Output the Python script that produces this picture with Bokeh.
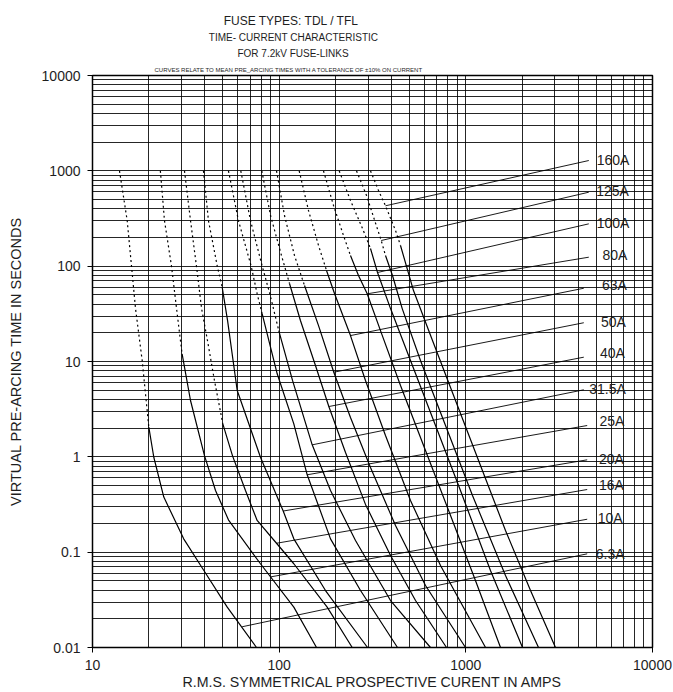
from bokeh.plotting import figure
from bokeh.layouts import column
from bokeh.models import FixedTicker, CustomJSTickFormatter, ColumnDataSource, Range1d, Title
from bokeh.core.properties import value
from bokeh.embed import file_html
from bokeh.resources import INLINE

FONT = "Liberation Sans"
INK = "#1e1e1e"

ratings = ["6.3A", "10A", "16A", "20A", "25A", "31.5A", "40A", "50A", "63A", "80A", "100A", "125A", "160A"]

# dotted (upper) part of each curve: current (A) / time (s)
dot_I = [
    [13.95, 15.34, 17.0, 18.46, 20.03],
    [23.1, 24.3, 26.5, 28.2, 30.2],
    [31.1, 33.5, 36.1, 38.4, 41.3, 45.0, 49.9],
    [39.3, 41.8, 46.6, 49.5],
    [53.5, 60.5, 70.8, 76.2, 81.1],
    [62.3, 70.2, 81.1, 89.1, 99.5],
    [80.7, 89.9, 102.9, 113.6],
    [96.8, 106.8, 120.8, 136.7],
    [128.0, 143.6, 162.5, 179.3],
    [172.8, 195.5, 221.1, 241.0],
    [209.7, 241.0, 279.6, 308.5],
    [259.6, 293.8, 352.1, 371.2],
    [308.5, 340.5, 371.2, 420.0, 446.7],
]
dot_t = [
    [1000, 301, 36, 10.2, 2.05],
    [1000, 301, 100, 36, 12.0],
    [1000, 301, 98, 36, 16.6, 6.33, 2.22],
    [1000, 301, 100, 60.3],
    [1000, 301, 100, 51.4, 31.6],
    [1000, 301, 100, 51.4, 21.1],
    [1000, 340, 129.4, 65.8],
    [1000, 340, 129.4, 62.7],
    [1000, 383.7, 164.7, 90.1],
    [1000, 432.8, 209.7, 129.4],
    [1000, 488.5, 248.3, 153.2],
    [1000, 551, 185.8, 129.4],
    [1000, 622, 429.8, 236.7, 164.7],
]
# solid (lower) part of each curve
sol_I = [
    [20.03, 21.3, 24.1, 30.8, 39.5, 52.7, 75.6],
    [30.2, 33.5, 39.8, 45.6, 53.7, 79.4, 119.8, 158.5],
    [49.9, 56.2, 66.0, 76.2, 96.8, 119.8, 180.8, 246.2],
    [49.5, 52.9, 59.6, 79.4, 105.1, 119.8, 177.1, 297.4],
    [81.1, 97.6, 119.8, 141.3, 188.4, 272.8, 430.4],
    [99.5, 117.9, 150.3, 188.4, 256.4, 395.0, 646.6],
    [113.6, 130.0, 156.5, 184.5, 226.7, 290.0, 395.0, 537.6, 787.8],
    [136.7, 162.5, 196.2, 241.0, 308.5, 420.0, 608.0, 995.9],
    [179.3, 197.9, 241.0, 290.0, 371.2, 505.3, 731.6, 1275.0],
    [241.0, 266.0, 296.2, 349.0, 446.7, 608.0, 828.0, 1126.0, 1534.0],
    [308.5, 336.4, 395.0, 505.3, 688.0, 936.0, 1355.0, 2012.0],
    [371.2, 404.6, 456.3, 571.5, 778.3, 1085.6, 1631.0, 2451.0],
    [446.7, 524.3, 662.8, 880.5, 1198.0, 1631.0, 2221.0, 3022.0],
]
sol_t = [
    [2.05, 0.99, 0.378, 0.138, 0.0643, 0.0265, 0.01],
    [12.0, 3.9, 1.03, 0.443, 0.215, 0.0756, 0.0265, 0.01],
    [2.22, 1.03, 0.443, 0.215, 0.124, 0.0756, 0.0265, 0.01],
    [60.3, 27.0, 4.96, 0.99, 0.27, 0.138, 0.0396, 0.01],
    [31.6, 7.43, 2.22, 0.648, 0.138, 0.0396, 0.01],
    [21.1, 6.33, 1.336, 0.443, 0.1325, 0.0311, 0.01],
    [65.8, 26.9, 9.08, 3.37, 1.11, 0.317, 0.0922, 0.0311, 0.01],
    [62.7, 23.8, 7.72, 2.59, 0.773, 0.1904, 0.0447, 0.01],
    [90.1, 51.7, 18.7, 6.32, 1.674, 0.348, 0.0724, 0.01],
    [129.4, 79.8, 51.3, 21.1, 5.6, 1.165, 0.2423, 0.0504, 0.01],
    [153.2, 85.8, 35.9, 10.24, 2.13, 0.4433, 0.0642, 0.01],
    [129.4, 79.8, 35.9, 10.24, 2.13, 0.3928, 0.0569, 0.01],
    [164.7, 55.5, 16.6, 3.9, 0.811, 0.1688, 0.0396, 0.01],
]

# leader lines: from a point on the curve to the rating label
lead_I0 = [63.3, 89.9, 96.8, 105.1, 141.3, 150.3, 184.5, 196.2, 241.0, 296.2, 336.4, 352.1, 371.2]
lead_t0 = [0.0165, 0.055, 0.124, 0.27, 0.648, 1.336, 3.37, 7.72, 18.7, 51.3, 85.8, 185.8, 429.8]
lead_I1 = [4468, 4468, 4468, 4468, 4468, 4285, 4285, 4285, 4285, 4558, 4558, 4558, 4558]
lead_t1 = [0.0961, 0.2216, 0.4542, 0.9305, 2.13, 5.05, 11.1, 25.5, 58.7, 124.2, 278, 597, 1283]
label_I = [5934, 5934, 6030, 6030, 6060, 5741, 6097, 6173, 6250, 6289, 6143, 6105, 6143]
label_t = [0.096, 0.229, 0.508, 0.953, 2.35, 5.09, 12.2, 25.8, 63.7, 129.4, 287, 611, 1306]

x_major = [10, 100, 1000, 10000]
y_major = [0.01, 0.1, 1, 10, 100, 1000, 10000]
x_grid = [k * 10 ** e for e in range(1, 4) for k in range(1, 10)] + [10000]
y_grid = [round(k * 10.0 ** e, 4) for e in range(-2, 4) for k in range(1, 10)] + [10000]

title_lines = ["FUSE TYPES:  TDL / TFL", "TIME- CURRENT CHARACTERISTIC", "FOR 7.2kV FUSE-LINKS"]
note = "CURVES RELATE TO MEAN PRE_ARCING TIMES WITH A TOLERANCE OF  \u00b110% ON CURRENT"

HDR_H = 58
# ---- header (titles); its frame is aligned with the chart frame (x 92..652 of the page)
hdr = figure(width=673, height=HDR_H, x_range=Range1d(92, 652), y_range=Range1d(HDR_H, 0),
             output_backend="svg", toolbar_location=None,
             x_axis_location=None, y_axis_location=None,
             min_border_left=92, min_border_right=21, min_border_top=0, min_border_bottom=0)
hdr.outline_line_color = None
hdr.grid.visible = False
hdr.background_fill_color = "white"
hdr.border_fill_color = "white"
for txt, xc, yb, fs in zip(title_lines, [292.5, 293, 292.5], [20.7, 36.7, 53.3],
                           ["12px", "10px", "10px"]):
    hdr.text(x=[xc], y=[yb], text=[txt], text_font=value(FONT), text_font_size=fs,
             text_align="center", text_baseline="alphabetic", text_color=INK)

# ---- main chart ----
p = figure(width=673, height=692 - HDR_H, x_axis_type="log", y_axis_type="log",
           x_range=(10, 10000), y_range=(0.01, 10000),
           output_backend="svg", toolbar_location=None,
           min_border_left=92, min_border_right=21, min_border_top=75 - HDR_H, min_border_bottom=45)
p.background_fill_color = "white"
p.border_fill_color = "white"
p.outline_line_color = "black"
p.outline_line_width = 1.5
p.add_layout(Title(text=note, align="left", offset=62, vertical_align="bottom", standoff=5,
                   text_font=FONT, text_font_size="6px", text_font_style="normal",
                   text_color=INK), "above")

for g, t in ((p.xgrid, x_grid), (p.ygrid, y_grid)):
    g.ticker = FixedTicker(ticks=t)
    g.grid_line_color = "black"
    g.grid_line_width = 1
    g.grid_line_alpha = 0.85

fmt = CustomJSTickFormatter(code="return tick.toString();")
p.xaxis.ticker = FixedTicker(ticks=x_major, minor_ticks=[])
p.yaxis.ticker = FixedTicker(ticks=y_major, minor_ticks=[])
p.xaxis.formatter = fmt
p.yaxis.formatter = fmt
for ax in (p.xaxis[0], p.yaxis[0]):
    ax.major_tick_out = 5
    ax.major_tick_in = 0
    ax.minor_tick_out = 0
    ax.minor_tick_in = 0
    ax.axis_line_color = "black"
    ax.major_tick_line_color = "black"
    ax.major_label_text_font = FONT
    ax.major_label_text_font_size = "14px"
    ax.major_label_text_color = INK
    ax.axis_label_text_font = FONT
    ax.axis_label_text_font_style = "normal"
    ax.axis_label_text_color = INK
p.xaxis.axis_label_text_font_size = "14.2px"
p.yaxis.axis_label_text_font_size = "14.5px"
p.xaxis.major_label_standoff = 7
p.yaxis.major_label_standoff = 7
p.xaxis.axis_label = "R.M.S. SYMMETRICAL PROSPECTIVE CURENT IN AMPS"
p.yaxis.axis_label = "VIRTUAL PRE-ARCING TIME IN SECONDS"
p.xaxis.axis_label_standoff = 1
p.yaxis.axis_label_standoff = 15

p.multi_line(xs=dot_I, ys=dot_t, line_color="black", line_width=1.2, line_dash="2 3")
p.multi_line(xs=sol_I, ys=sol_t, line_color="black", line_width=1.2)
p.segment(x0=lead_I0, y0=lead_t0, x1=lead_I1, y1=lead_t1, line_color="black", line_width=0.9)
src = ColumnDataSource(dict(x=label_I, y=label_t, text=ratings))
p.text(x="x", y="y", text="text", source=src, text_font=value(FONT), text_font_size="14px",
       text_align="center", text_baseline="middle", text_color=INK)

layout = column(hdr, p, spacing=0)
open("out.html", "w").write(file_html(layout, INLINE))
